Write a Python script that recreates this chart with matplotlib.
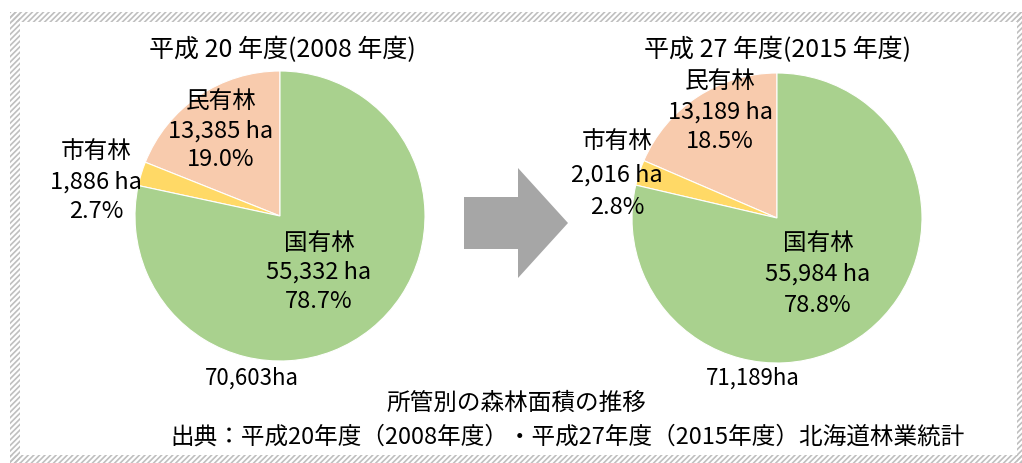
import matplotlib.pyplot as plt
from matplotlib.patches import Rectangle, Polygon

plt.rcParams['font.family'] = ['Noto Sans CJK JP', 'DejaVu Sans']

# データ（民有林, 市有林, 国有林 の順 = 反時計回り）
categories = ['民有林', '市有林', '国有林']
area_2008 = [13385, 1886, 55332]
area_2015 = [13189, 2016, 55984]
share_2008 = ['19.0%', '2.7%', '78.7%']
share_2015 = ['18.5%', '2.8%', '78.8%']
total_2008 = '70,603ha'
total_2015 = '71,189ha'
title_2008 = '平成 20 年度(2008 年度)'
title_2015 = '平成 27 年度(2015 年度)'
colors = ['#F8CBAD', '#FFD966', '#A9D18E']

W, H = 1022, 463
fig = plt.figure(figsize=(W / 100, H / 100), dpi=100)
R = 145


def add_pie(cx, cy, values):
    ax = fig.add_axes([(cx - R) / W, (H - cy - R) / H, 2 * R / W, 2 * R / H])
    ax.pie(values, colors=colors, startangle=90, counterclock=True,
           radius=1, wedgeprops=dict(linewidth=0.8, edgecolor='white'))
    ax.set_xlim(-1, 1)
    ax.set_ylim(-1, 1)
    ax.set_axis_off()
    return ax


add_pie(280, 216, area_2008)
add_pie(777, 218, area_2015)

# 文字や矢印は画素座標の重ね軸に描く
ov = fig.add_axes([0, 0, 1, 1])
ov.set_xlim(0, W)
ov.set_ylim(H, 0)
ov.set_axis_off()
ov.patch.set_alpha(0)

fs = 17


def put_labels(title, title_x, areas, shares, pos, total, total_x):
    ov.text(title_x, 50, title, ha='center', va='center', fontsize=fs + 1)
    for name, a, s, (x, y, dy) in zip(categories, areas, shares, pos):
        ov.text(x, y, name, ha='center', va='center', fontsize=fs)
        ov.text(x, y + dy, '{:,} ha'.format(a), ha='center', va='center', fontsize=fs)
        ov.text(x, y + 2 * dy, s, ha='center', va='center', fontsize=fs)
    ov.text(total_x, 378, total, ha='center', va='center', fontsize=fs - 1)


put_labels(title_2008, 282, area_2008, share_2008,
           [(221, 102, 29), (96, 152, 30), (319, 243, 29)], total_2008, 252)
put_labels(title_2015, 777, area_2015, share_2015,
           [(720, 82, 30), (617, 142, 33), (818, 243, 31)], total_2015, 753)

# 灰色の矢印
arrow = [(464, 197), (518, 197), (518, 168), (568, 223), (518, 278),
         (518, 249), (464, 249)]
ov.add_patch(Polygon(arrow, closed=True, facecolor='#A6A6A6', edgecolor='none'))

ov.text(516, 403, '所管別の森林面積の推移', ha='center', va='center', fontsize=fs)
ov.text(568, 437, '出典：平成20年度（2008年度）・平成27年度（2015年度）北海道林業統計',
        ha='center', va='center', fontsize=fs)

# 斜線の枠
plt.rcParams['hatch.linewidth'] = 1.2
for x0, y0, w, h in [(10, 12, 1012, 10), (10, 12, 10, 451),
                     (10, 455, 1012, 8), (1017, 12, 5, 451)]:
    ov.add_patch(Rectangle((x0, y0), w, h, facecolor='none', edgecolor='#BFBFBF',
                           linewidth=0, hatch='//////'))

fig.savefig('out.png', dpi=100)
